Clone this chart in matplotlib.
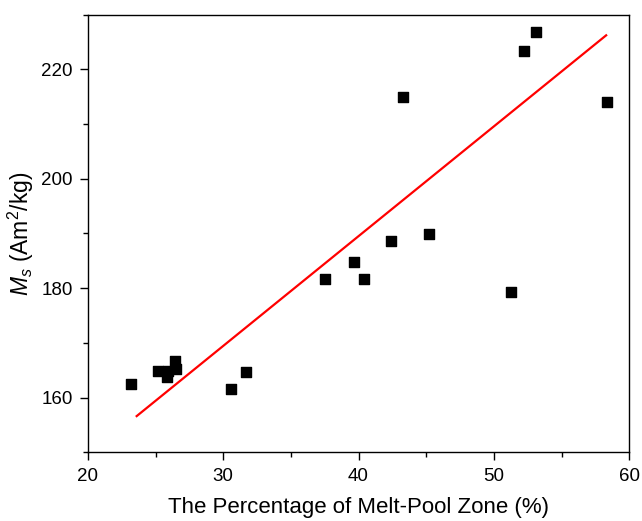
import numpy as np
import matplotlib.pyplot as plt
from matplotlib.ticker import MultipleLocator

plt.rcParams['font.family'] = ['Liberation Sans', 'DejaVu Sans']
plt.rcParams['mathtext.fontset'] = 'custom'
plt.rcParams['mathtext.it'] = 'Liberation Sans:italic'
plt.rcParams['mathtext.rm'] = 'Liberation Sans'

# melt-pool zone percentage and saturation magnetisation
melt_pool = np.array([23.2, 25.2, 25.85, 25.9, 26.4, 26.5, 30.6, 31.7,
                      37.5, 39.7, 40.4, 42.4, 43.25, 45.2, 51.3, 52.2, 53.1, 58.35])
ms = np.array([162.5, 164.9, 163.7, 164.8, 166.6, 165.3, 161.5, 164.6,
               181.6, 184.8, 181.7, 188.7, 215.0, 189.9, 179.2, 223.4, 226.8, 214.0])

# fitted line as drawn in the original figure
fit_x = np.array([23.6, 58.3])
fit_slope = 2.006
fit_intercept = 109.26

fig = plt.figure(figsize=(6.42, 5.21), dpi=100)
ax = fig.add_axes([0.137, 0.132, 0.843, 0.840])

ax.scatter(melt_pool, ms, marker='s', s=56, color='black', zorder=3)
ax.plot(fit_x, fit_slope * fit_x + fit_intercept, color='red', lw=1.6, zorder=2)

ax.set_xlim(20, 60)
ax.set_ylim(150, 230)
ax.xaxis.set_major_locator(MultipleLocator(10))
ax.xaxis.set_minor_locator(MultipleLocator(5))
ax.yaxis.set_major_locator(MultipleLocator(20))
ax.yaxis.set_minor_locator(MultipleLocator(10))
ax.tick_params(which='major', direction='out', length=6, width=1, labelsize=13.5, pad=5)
ax.tick_params(which='minor', direction='out', length=3.5, width=1)
for sp in ax.spines.values():
    sp.set_linewidth(1)

ax.set_xlabel('The Percentage of Melt-Pool Zone (%)', fontsize=16, labelpad=9)
ax.set_ylabel(r'$M_s$ (Am$^2$/kg)', fontsize=16.5, labelpad=4)

fig.savefig('out.png', dpi=100)
